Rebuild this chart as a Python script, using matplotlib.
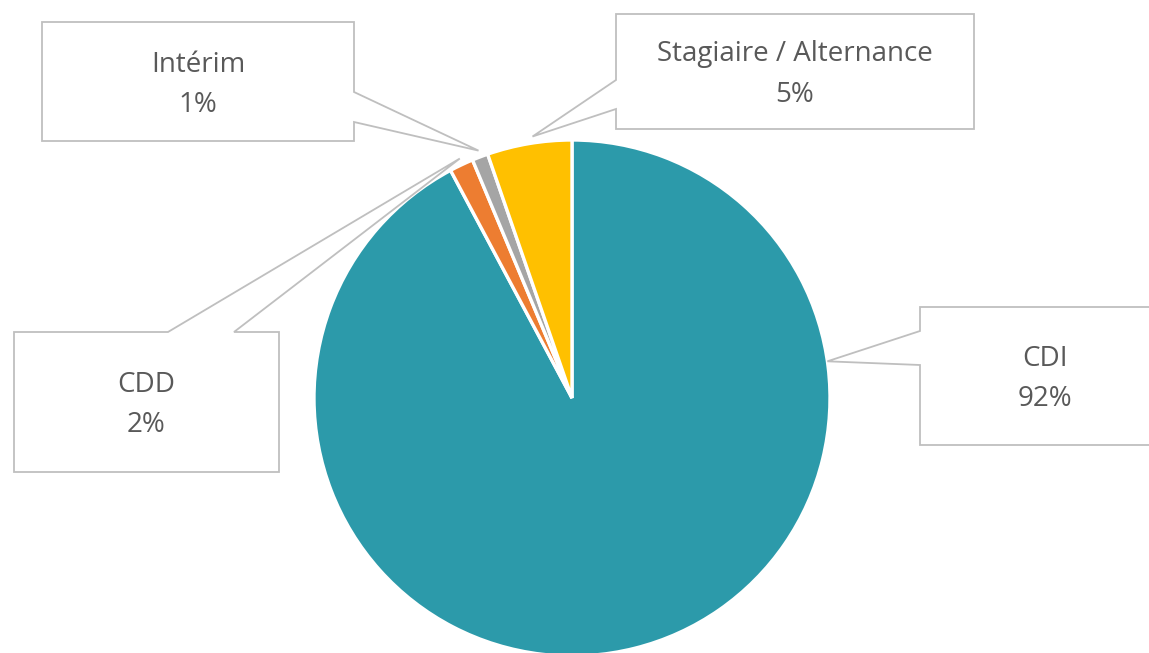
import numpy as np
import matplotlib.pyplot as plt
from matplotlib.patches import Polygon

# data
categories = ["CDI", "CDD", "Intérim", "Stagiaire / Alternance"]
shares = [92.2, 1.5, 1.0, 5.3]
colors = ["#2C9AAA", "#ED7D31", "#A5A5A5", "#FFC000"]

W, H = 1149, 653
fig = plt.figure(figsize=(W / 100, H / 100), dpi=100)
ax = fig.add_axes([0, 0, 1, 1])

cx, cy, r = 572, H - 398, 258
wedges, _ = ax.pie(shares, colors=colors, startangle=90, counterclock=False,
                   center=(cx, cy), radius=r, frame=True,
                   wedgeprops=dict(edgecolor="white", linewidth=2.4))
ax.set_xlim(0, W)
ax.set_ylim(0, H)
ax.set_aspect("equal")
ax.axis("off")

# callout boxes (pixel coords, y down): box x0, x1, y0, y1 and pointer side
boxes = {
    "CDI": dict(box=(920, 1170, 307, 445), side="left", base=(331, 365)),
    "CDD": dict(box=(14, 279, 332, 472), side="top", base=(168, 234)),
    "Intérim": dict(box=(42, 354, 22, 141), side="right", base=(92, 122)),
    "Stagiaire / Alternance": dict(box=(616, 974, 14, 129), side="left", base=(80, 109)),
}

for w, name, val in zip(wedges, categories, shares):
    b = boxes[name]
    x0, x1, y0, y1 = b["box"]
    Y0, Y1 = H - y0, H - y1  # top, bottom in y-up
    p, q = b["base"]
    if b["side"] == "left":
        pts = [(x0, Y0), (x1, Y0), (x1, Y1), (x0, Y1), (x0, H - q), None, (x0, H - p)]
        bx, by = x0, H - (p + q) / 2
    elif b["side"] == "right":
        pts = [(x0, Y0), (x1, Y0), (x1, H - p), None, (x1, H - q), (x1, Y1), (x0, Y1)]
        bx, by = x1, H - (p + q) / 2
    else:
        pts = [(x0, Y0), (p, Y0), None, (q, Y0), (x1, Y0), (x1, Y1), (x0, Y1)]
        bx, by = (p + q) / 2, Y0
    # anchor on the wedge, toward the box
    t1, t2 = w.theta1, w.theta2
    span = t2 - t1
    ang = np.degrees(np.arctan2(by - cy, bx - cx))
    while ang < t1:
        ang += 360
    while ang > t2:
        ang -= 360
    m = 0.45 * span if span < 60 else 5
    ang = min(max(ang, t1 + m), t2 - m)
    rr = r if span > 60 else r * 1.025
    tip = (cx + rr * np.cos(np.radians(ang)), cy + rr * np.sin(np.radians(ang)))
    pts[pts.index(None)] = tip
    ax.add_patch(Polygon(pts, closed=True, facecolor="white", edgecolor="#BFBFBF",
                         linewidth=1.3, zorder=3, clip_on=False))
    tx = (x0 + x1) / 2
    tyc = H - (y0 + y1) / 2 - 3
    ax.text(tx, tyc + 20, name, ha="center", va="center", fontsize=20,
            color="#595959", family="Open Sans", zorder=4)
    ax.text(tx, tyc - 20, f"{round(val):.0f}%", ha="center", va="center", fontsize=20,
            color="#595959", family="Open Sans", zorder=4)

fig.savefig("out.png", dpi=100)
